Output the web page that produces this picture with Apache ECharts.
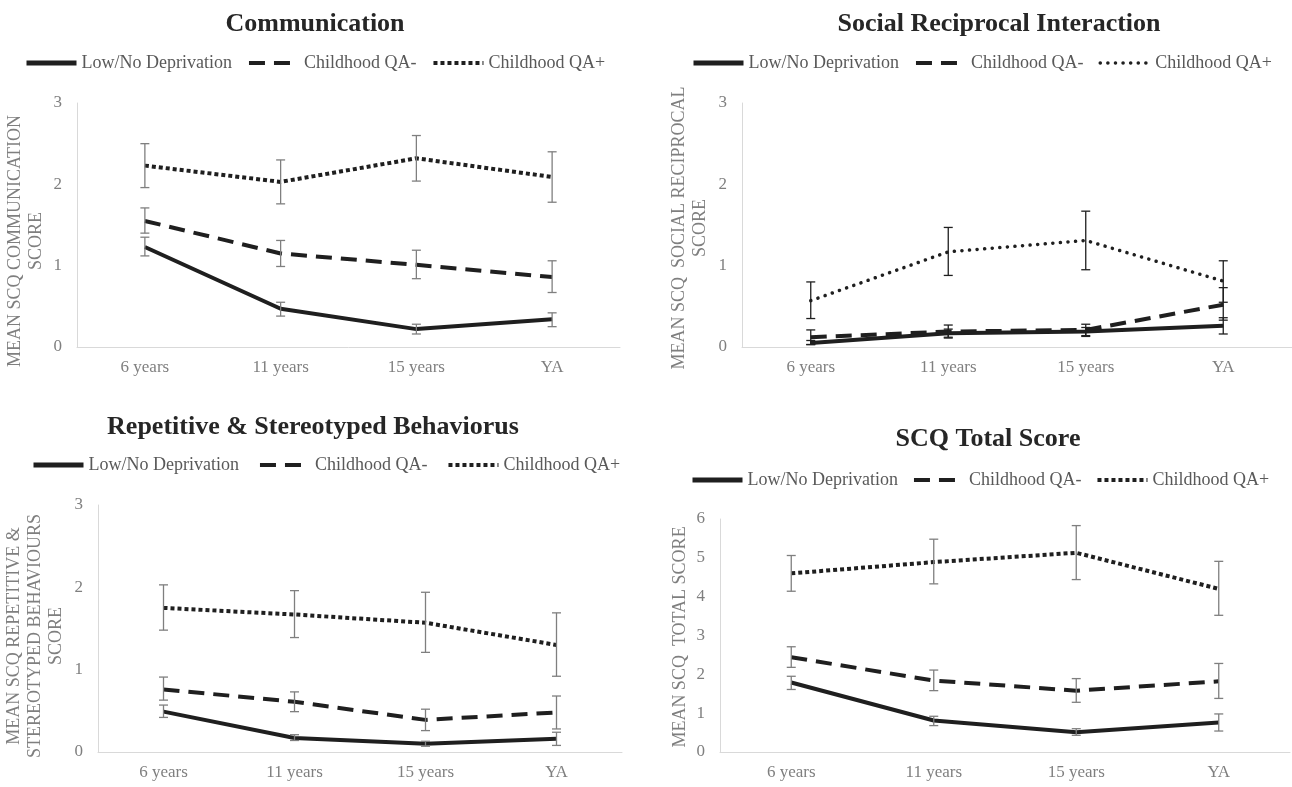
<!DOCTYPE html>
<html>
<head>
<meta charset="utf-8">
<script src="https://cdn.jsdelivr.net/npm/echarts@6/dist/echarts.min.js"></script>
<style>
  html, body { margin: 0; padding: 0; background: #fff; }
  #main { width: 1292px; height: 787px; }
</style>
</head>
<body>
<div id="main"></div>
<script>
var categories = ['6 years', '11 years', '15 years', 'YA'];
var groupNames = ['Low/No Deprivation', 'Childhood QA-', 'Childhood QA+'];

// Communication
var commLow = [1.23, 0.47, 0.22, 0.34];
var commLowErr = [[1.12, 1.35], [0.38, 0.55], [0.16, 0.28], [0.25, 0.42]];
var commQAm = [1.55, 1.15, 1.01, 0.86];
var commQAmErr = [[1.40, 1.71], [0.99, 1.31], [0.84, 1.19], [0.67, 1.06]];
var commQAp = [2.23, 2.03, 2.32, 2.09];
var commQApErr = [[1.96, 2.50], [1.76, 2.30], [2.04, 2.60], [1.78, 2.40]];

// Social reciprocal interaction
var socLow = [0.05, 0.17, 0.19, 0.26];
var socLowErr = [[0.03, 0.08], [0.12, 0.22], [0.14, 0.24], [0.16, 0.36]];
var socQAm = [0.12, 0.19, 0.21, 0.52];
var socQAmErr = [[0.03, 0.21], [0.11, 0.27], [0.13, 0.28], [0.33, 0.73]];
var socQAp = [0.57, 1.17, 1.31, 0.81];
var socQApErr = [[0.35, 0.80], [0.88, 1.47], [0.95, 1.67], [0.55, 1.06]];

// Repetitive & stereotyped behaviours
var repLow = [0.49, 0.17, 0.10, 0.16];
var repLowErr = [[0.42, 0.57], [0.14, 0.21], [0.07, 0.13], [0.08, 0.24]];
var repQAm = [0.76, 0.61, 0.39, 0.48];
var repQAmErr = [[0.63, 0.91], [0.49, 0.73], [0.26, 0.52], [0.28, 0.68]];
var repQAp = [1.75, 1.67, 1.57, 1.30];
var repQApErr = [[1.48, 2.03], [1.39, 1.96], [1.21, 1.94], [0.92, 1.69]];

// SCQ total
var totLow = [1.79, 0.81, 0.51, 0.76];
var totLowErr = [[1.61, 1.95], [0.68, 0.92], [0.43, 0.60], [0.54, 0.98]];
var totQAm = [2.44, 1.84, 1.58, 1.82];
var totQAmErr = [[2.18, 2.71], [1.58, 2.11], [1.28, 1.89], [1.38, 2.28]];
var totQAp = [4.60, 4.89, 5.13, 4.20];
var totQApErr = [[4.14, 5.06], [4.33, 5.48], [4.44, 5.83], [3.52, 4.91]];

var serif = '"Liberation Serif", "Times New Roman", serif';
var lineColor = '#1f1f1f';

var panels = [
    {title: 'Communication', titleX: 310, titleY: 6,
     grid: {left: 77, top: 103, width: 543, height: 244}, max: 3,
     legend: {left: 24, top: 54, itemGap: 15},
     yName: 'MEAN SCQ COMMUNICATION\nSCORE', nameX: 26, nameY: 241,
     values: [commLow, commQAm, commQAp], errs: [commLowErr, commQAmErr, commQApErr],
     errColor: '#7f7f7f', roundDots: false},
    {title: 'Social Reciprocal Interaction', titleX: 994, titleY: 6,
     grid: {left: 742, top: 103, width: 556, height: 244}, max: 3,
     legend: {left: 691, top: 54, itemGap: 15},
     yName: 'MEAN SCQ  SOCIAL RECIPROCAL\nSCORE', nameX: 690, nameY: 228,
     values: [socLow, socQAm, socQAp], errs: [socLowErr, socQAmErr, socQApErr],
     errColor: '#1f1f1f', roundDots: true},
    {title: 'Repetitive & Stereotyped Behaviorus', titleX: 308, titleY: 409,
     grid: {left: 98, top: 505, width: 524, height: 247}, max: 3,
     legend: {left: 31, top: 456, itemGap: 19},
     yName: 'MEAN SCQ REPETITIVE &\nSTEREOTYPED BEHAVIOURS\nSCORE', nameX: 35, nameY: 636,
     values: [repLow, repQAm, repQAp], errs: [repLowErr, repQAmErr, repQApErr],
     errColor: '#7f7f7f', roundDots: false},
    {title: 'SCQ Total Score', titleX: 983, titleY: 421,
     grid: {left: 720, top: 519, width: 570, height: 233}, max: 6,
     legend: {left: 690, top: 471, itemGap: 14},
     yName: 'MEAN SCQ  TOTAL SCORE', nameX: 680, nameY: 637,
     values: [totLow, totQAm, totQAp], errs: [totLowErr, totQAmErr, totQApErr],
     errColor: '#7f7f7f', roundDots: false}
];

function lineStyleFor(k, roundDots) {
    if (k === 0) return {color: lineColor, width: 4, type: 'solid'};
    if (k === 1) return {color: lineColor, width: 4, type: [16, 9]};
    if (roundDots) return {color: lineColor, width: 3.5, type: [0.1, 7.5], cap: 'round'};
    return {color: lineColor, width: 4, type: [4, 3]};
}

function makeErrRender(color) {
    return function (params, api) {
        var lo = api.coord([api.value(0), api.value(1)]);
        var hi = api.coord([api.value(0), api.value(2)]);
        var w = 4.5;
        var st = {stroke: color, lineWidth: 1.3};
        return {
            type: 'group',
            children: [
                {type: 'line', shape: {x1: lo[0], y1: lo[1], x2: hi[0], y2: hi[1]}, style: st},
                {type: 'line', shape: {x1: lo[0] - w, y1: lo[1], x2: lo[0] + w, y2: lo[1]}, style: st},
                {type: 'line', shape: {x1: hi[0] - w, y1: hi[1], x2: hi[0] + w, y2: hi[1]}, style: st}
            ]
        };
    };
}

var titles = [], grids = [], xAxes = [], yAxes = [], legends = [], series = [], graphics = [];

panels.forEach(function (p, i) {
    titles.push({
        text: p.title, left: p.titleX, top: p.titleY, textAlign: 'center',
        textStyle: {fontFamily: serif, fontWeight: 'bold', fontSize: 26, color: '#262626'}
    });
    grids.push(p.grid);
    xAxes.push({
        type: 'category', gridIndex: i, data: categories, boundaryGap: true,
        axisLine: {lineStyle: {color: '#d9d9d9', width: 1}},
        axisTick: {show: false},
        axisLabel: {color: '#7f7f7f', fontSize: 17, fontFamily: serif, margin: 12}
    });
    yAxes.push({
        type: 'value', gridIndex: i, min: 0, max: p.max, interval: 1,
        axisLine: {show: true, lineStyle: {color: '#d9d9d9', width: 1}},
        axisTick: {show: false},
        splitLine: {show: false},
        axisLabel: {color: '#7f7f7f', fontSize: 17, fontFamily: serif, margin: 15}
    });
    var legendData = groupNames.map(function (n, k) {
        var ls = lineStyleFor(k, p.roundDots);
        return {
            name: n,
            itemStyle: {opacity: 0},
            lineStyle: {color: ls.color, width: k === 0 ? 5 : ls.width, type: ls.type, cap: ls.cap || 'butt'}
        };
    });
    legends.push({
        left: p.legend.left, top: p.legend.top, itemGap: p.legend.itemGap, padding: 0,
        itemWidth: 50, itemHeight: 14, data: legendData,
        selectedMode: false,
        textStyle: {fontFamily: serif, fontSize: 18, color: '#595959'}
    });
    p.values.forEach(function (vals, k) {
        series.push({
            name: groupNames[k], type: 'line', xAxisIndex: i, yAxisIndex: i,
            data: vals, symbol: 'none', showSymbol: false, smooth: false,
            lineStyle: lineStyleFor(k, p.roundDots), z: 2,
            animation: false
        });
    });
    var errData = [];
    p.errs.forEach(function (e) {
        e.forEach(function (r, c) { errData.push([c, r[0], r[1]]); });
    });
    series.push({
        type: 'custom', xAxisIndex: i, yAxisIndex: i, data: errData,
        encode: {x: 0, y: [1, 2]}, renderItem: makeErrRender(p.errColor),
        z: 3, silent: true, animation: false
    });
    graphics.push({
        type: 'text', x: p.nameX, y: p.nameY, rotation: Math.PI / 2,
        style: {
            text: p.yName, fill: '#7f7f7f', font: '18px ' + serif,
            textAlign: 'center', textVerticalAlign: 'middle', lineHeight: 21
        }
    });
});

var chart = echarts.init(document.getElementById('main'));
chart.setOption({
    animation: false,
    title: titles,
    grid: grids,
    xAxis: xAxes,
    yAxis: yAxes,
    legend: legends,
    series: series,
    graphic: graphics
});
window.addEventListener('resize', function () { chart.resize(); });
</script>
</body>
</html>
